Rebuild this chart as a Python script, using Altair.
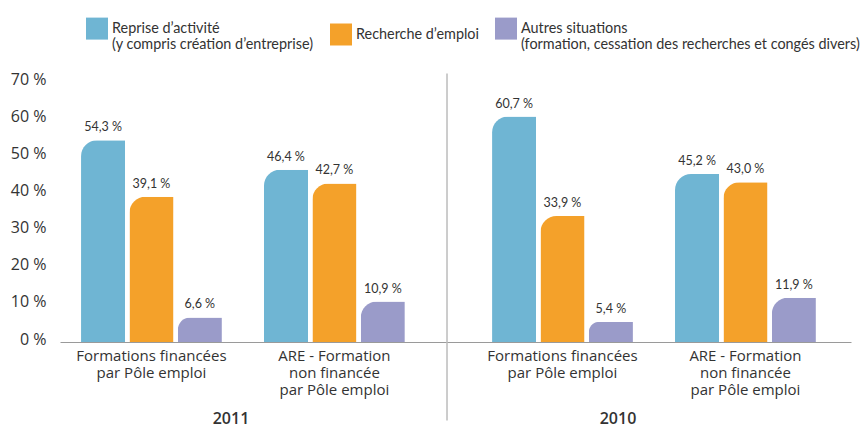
import altair as alt
import pandas as pd

years = ["2011", "2010"]
groups = ["Formations financées\npar Pôle emploi", "ARE - Formation\nnon financée\npar Pôle emploi"]
series = [
    "Reprise d’activité\n(y compris création d’entreprise)",
    "Recherche d’emploi",
    "Autres situations\n(formation, cessation des recherches et congés divers)",
]
colors = ["#6fb5d3", "#f4a12a", "#9a9bc9"]
vals_2011_formations = [54.3, 39.1, 6.6]
vals_2011_are = [46.4, 42.7, 10.9]
vals_2010_formations = [60.7, 33.9, 5.4]
vals_2010_are = [45.2, 43.0, 11.9]
y_ticks = [0, 10, 20, 30, 40, 50, 60, 70]

rows = []
for year, blocks in [("2011", [vals_2011_formations, vals_2011_are]),
                     ("2010", [vals_2010_formations, vals_2010_are])]:
    for g, vals in zip(groups, blocks):
        for s, v in zip(series, vals):
            rows.append({"year": year, "group": g, "series": s, "value": v,
                         "label": f"{v:.1f}".replace(".", ",") + " %"})
df = pd.DataFrame(rows)

NARROW = "Lato, Liberation Sans Narrow, sans-serif"
MAIN = "Open Sans, Noto Sans, sans-serif"
TXT = "#333333"
H = 260


def panel(year, width, pad_outer, align, show_y, divider):
    d = df[df.year == year]
    base = alt.Chart(d)
    x = alt.X(
        "group:N", sort=groups,
        scale=alt.Scale(paddingInner=0.23, paddingOuter=pad_outer, align=align),
        axis=alt.Axis(
            title=None, labelExpr="split(datum.label, '\\n')", labelAngle=0,
            ticks=False, domainColor="#9a9a9a", domainWidth=1,
            labelFont=MAIN, labelFontSize=15, labelColor=TXT, labelPadding=6,
            labelLineHeight=17, labelLimit=300,
        ),
    )
    xo = alt.XOffset("series:N", sort=series, scale=alt.Scale(paddingInner=0.09, paddingOuter=0))
    if show_y:
        yaxis = alt.Axis(values=y_ticks, labelExpr="datum.value + ' %'", ticks=False,
                         domain=False, grid=False, title=None, labelFont=MAIN,
                         labelFontSize=16, labelColor=TXT, labelPadding=14, labelOffset=-3)
    else:
        yaxis = None
    y = alt.Y("value:Q", scale=alt.Scale(domain=[0, 70], nice=False), axis=yaxis)
    color = alt.Color(
        "series:N", sort=series,
        scale=alt.Scale(domain=series, range=colors),
        legend=alt.Legend(
            title=None, orient="none", legendX=26, legendY=-64.5, direction="horizontal",
            columns=3, symbolType="square", symbolSize=484, symbolStrokeWidth=0,
            symbolOpacity=1, labelFont=NARROW, labelFontSize=14.4, labelColor=TXT,
            labelExpr="split(datum.label, '\\n')", labelLimit=500, labelOffset=4,
            columnPadding=16, padding=0,
        ),
    )
    bars = base.mark_bar(cornerRadiusTopLeft=16).encode(x=x, xOffset=xo, y=y, color=color)
    text = base.mark_text(dy=-13, font=NARROW, fontSize=12.5, color=TXT).encode(
        x=x, xOffset=xo, y=y, text="label:N")
    year_df = pd.DataFrame({"year": [year]})
    year_text = alt.Chart(year_df).mark_text(
        font=MAIN, fontSize=16, fontWeight=600, color=TXT, baseline="middle", align="center"
    ).encode(x=alt.value(171), y=alt.value(H + 76.5), text="year:N")
    layers = [bars, text, year_text]
    if divider:
        rule = alt.Chart(year_df).mark_rule(color="#9a9a9a", strokeWidth=1).encode(
            x=alt.value(0), y=alt.value(-8.5), y2=alt.value(H + 78.5))
        layers.append(rule)
    return alt.layer(*layers).properties(width=width, height=H)


left = panel("2011", 386, 0.17, 0.338, True, False)
right = panel("2010", 404, 0.219, 0.562, False, True)

chart = alt.hconcat(left, right, spacing=0).resolve_scale(
    x="independent", xOffset="independent"
).properties(
    padding={"left": 2, "top": 9, "right": 0, "bottom": 0}
).configure_view(stroke=None)

chart.save("out.html", embed_options={"renderer": "svg", "actions": False})
